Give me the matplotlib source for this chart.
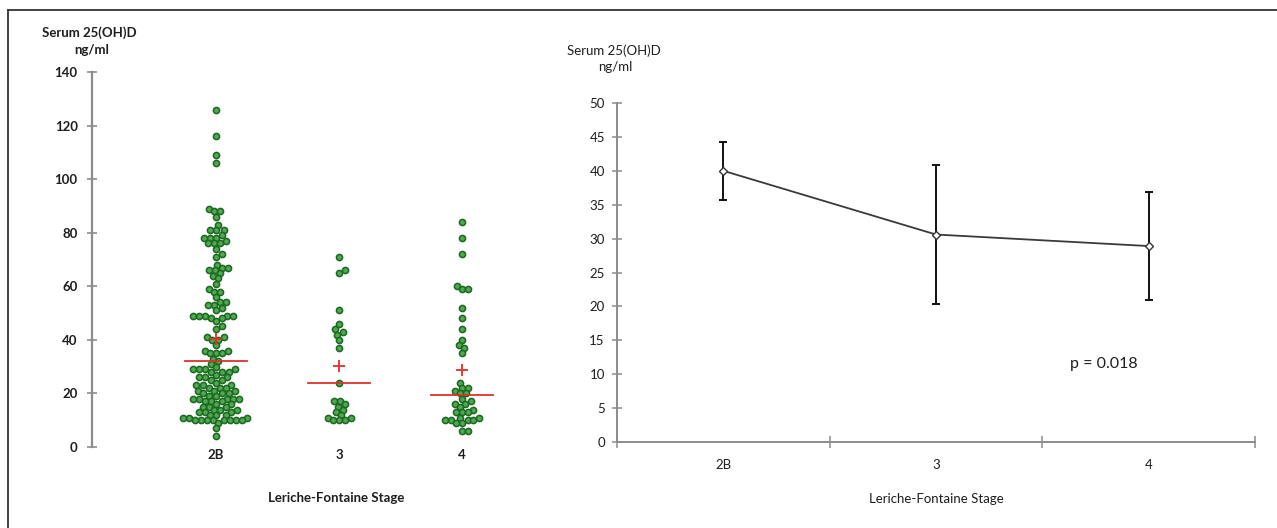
import numpy as np
import matplotlib
matplotlib.use("Agg")
import matplotlib.pyplot as plt
from matplotlib.lines import Line2D

plt.rcParams['font.family'] = ['Lato', 'DejaVu Sans']

# ---------------- data ----------------
groups = ['2B', '3', '4']

vals_2b = [126, 116, 109, 106,
           89, 88, 88, 86, 83,
           81, 81, 81, 79, 78, 78, 78, 77, 76, 76, 76,
           74, 72, 71,
           68, 67, 67, 66, 66, 65, 64, 63, 61,
           59, 58, 58, 56, 54, 54, 53, 53, 52, 51,
           49, 49, 49, 48, 49, 49, 48, 47, 45, 44,
           41, 41, 40, 40, 38, 36, 36, 35, 35, 35,
           33, 32, 31, 30, 29, 29, 29, 29, 28, 28, 28,
           27, 26, 26, 26, 25, 25, 24,
           23, 23, 23, 22, 22, 22, 21, 21, 21, 20, 20, 20,
           19, 19, 18, 18, 18, 18, 18, 17, 17, 17,
           16, 16, 15, 15, 15, 14, 14, 14, 13, 13, 13,
           12, 12, 12, 11, 11, 11, 10, 10, 10, 10, 10, 10, 10, 10, 9,
           7, 4]
vals_3 = [71, 66, 65, 51, 46, 44, 43, 42, 40, 37, 24,
          17, 17, 16, 15, 14, 13, 12, 11, 11, 10, 10, 10]
vals_4 = [84, 78, 72, 60, 59, 59, 52, 48, 44, 40, 38, 37, 35,
          24, 22, 22, 21, 20, 20, 18, 17, 16, 16, 15, 14, 13, 13, 13,
          11, 11, 10, 10, 10, 10, 9, 9, 6, 6]
group_values = [vals_2b, vals_3, vals_4]
group_medians = [32, 24, 19.5]
group_means = [40.3, 30.2, 28.6]

stage_means = [40.0, 30.6, 28.9]
err_upper = [44.2, 40.8, 36.8]
err_lower = [35.7, 20.4, 21.0]
p_text = 'p = 0.018'

left_yticks = [0, 20, 40, 60, 80, 100, 120, 140]
right_yticks = [0, 5, 10, 15, 20, 25, 30, 35, 40, 45, 50]
xlabel_text = 'Leriche-Fontaine Stage'

# ---------------- figure ----------------
W, H = 1277, 528
fig = plt.figure(figsize=(W / 100, H / 100), dpi=100)

def fx(px):
    return px / W

def fy(py):
    return 1 - py / H

axis_gray = '#8c8c8c'
text_col = '#1e1e1e'

# ---- left: dot plot ----
ax_l_left, ax_l_right = 92, 512
ax_l_top, ax_l_bot = 72, 447
grp_px = 123.0
grp0_px = 216.0
axL = fig.add_axes([fx(ax_l_left), fy(ax_l_bot), fx(ax_l_right - ax_l_left),
                    (ax_l_bot - ax_l_top) / H])
axL.set_ylim(0, 140)
axL.set_xlim(-(grp0_px - ax_l_left) / grp_px, (ax_l_right - grp0_px) / grp_px)
ypx_per_unit = (ax_l_bot - ax_l_top) / 140.0


def swarm_offsets(values, ppu, d):
    values = np.asarray(values, dtype=float)
    order = np.argsort(values, kind='stable')
    placed = []
    xs = np.zeros(len(values))
    flip = 1
    for i in order:
        y = values[i] * ppu
        best = None
        k = 0
        while best is None:
            cands = [0.0] if k == 0 else [flip * k * 0.5, -flip * k * 0.5]
            for s in cands:
                if all((s - px) ** 2 + (y - py) ** 2 >= d * d for px, py in placed):
                    best = s
                    break
            k += 1
        if best != 0:
            flip = -flip
        placed.append((best, y))
        xs[i] = best
    return xs


for gi, vals in enumerate(group_values):
    offs = swarm_offsets(vals, ypx_per_unit, 5.7)
    axL.plot(gi + offs / grp_px, vals, linestyle='none', marker='o', ms=4.4,
             mfc='#52a852', mec='#1c6a22', mew=1.15, zorder=3)
    axL.plot([gi - 0.255, gi + 0.255], [group_medians[gi]] * 2, color='#e0302a',
             lw=1.3, zorder=4)
    axL.plot([gi], [group_means[gi]], marker='+', ms=8.5, mew=1.3,
             color='#e0302a', linestyle='none', zorder=5)

for s in ['top', 'right', 'bottom']:
    axL.spines[s].set_visible(False)
axL.spines['left'].set_color(axis_gray)
axL.spines['left'].set_linewidth(1.6)
axL.set_yticks(left_yticks)
axL.tick_params(axis='y', direction='inout', length=7.5, width=1.2, color=axis_gray,
                pad=6.5, labelsize=9.5, labelcolor=text_col)
for t in axL.get_yticklabels():
    t.set_fontweight('bold')
axL.set_xticks([0, 1, 2])
axL.set_xticklabels(groups, fontsize=9.5, fontweight='bold', color=text_col)
axL.tick_params(axis='x', length=0, pad=1.5)
axL.patch.set_alpha(0)

fig.text(fx(89), fy(33), 'Serum 25(OH)D', ha='center', va='center', fontsize=9.5,
         fontweight='bold', color=text_col)
fig.text(fx(92), fy(50), 'ng/ml', ha='center', va='center', fontsize=9.5,
         fontweight='bold', color=text_col)
fig.text(fx(336), fy(498), xlabel_text, ha='center', va='center', fontsize=9.5,
         fontweight='bold', color=text_col)

# ---- right: means with error bars ----
ax_r_left, ax_r_right = 617, 1255
ax_r_top, ax_r_bot = 103, 442
axR = fig.add_axes([fx(ax_r_left), fy(ax_r_bot), fx(ax_r_right - ax_r_left),
                    (ax_r_bot - ax_r_top) / H])
axR.set_xlim(-0.5, 2.5)
axR.set_ylim(0, 50)
xpos = np.arange(len(groups))
sm = np.array(stage_means)
yerr = np.vstack([sm - np.array(err_lower), np.array(err_upper) - sm])
axR.errorbar(xpos, sm, yerr=yerr, fmt='none', ecolor='#111111', elinewidth=1.4,
             capsize=2.6, capthick=1.4, zorder=3)
axR.plot(xpos, sm, color='#3a3a3a', lw=1.3, zorder=4)
axR.plot(xpos, sm, linestyle='none', marker='D', ms=4.2, mfc='white',
         mec='#333333', mew=1.0, zorder=5)

for s in ['top', 'right']:
    axR.spines[s].set_visible(False)
for s in ['left', 'bottom']:
    axR.spines[s].set_color(axis_gray)
    axR.spines[s].set_linewidth(1.4)
axR.set_yticks(right_yticks)
axR.tick_params(axis='y', direction='inout', length=7.5, width=1.1, color=axis_gray,
                pad=5, labelsize=9.5, labelcolor=text_col)
axR.set_xticks([-0.5, 0.5, 1.5, 2.5])
axR.set_xticklabels([])
axR.tick_params(axis='x', which='major', direction='inout', length=9, width=1.1,
                color=axis_gray)
axR.set_xticks(xpos, minor=True)
axR.set_xticklabels(groups, minor=True, fontsize=9.5, color=text_col)
axR.tick_params(axis='x', which='minor', length=0, pad=12)
axR.patch.set_alpha(0)

axR.text(1.63, 11.5, p_text, fontsize=11.5, color=text_col, ha='left', va='center')

fig.text(fx(614), fy(51), 'Serum 25(OH)D', ha='center', va='center', fontsize=9.5,
         color=text_col)
fig.text(fx(615), fy(67), 'ng/ml', ha='center', va='center', fontsize=9.5,
         color=text_col)
fig.text(fx(936), fy(499), xlabel_text, ha='center', va='center', fontsize=9.5,
         color=text_col)

# ---- outer frame (top and left edges) ----
fig.add_artist(Line2D([fx(8), 1], [fy(10), fy(10)], color='#333333', lw=1.3))
fig.add_artist(Line2D([fx(8), fx(8)], [fy(10), 0], color='#333333', lw=1.3))

fig.savefig('out.png', dpi=100)
